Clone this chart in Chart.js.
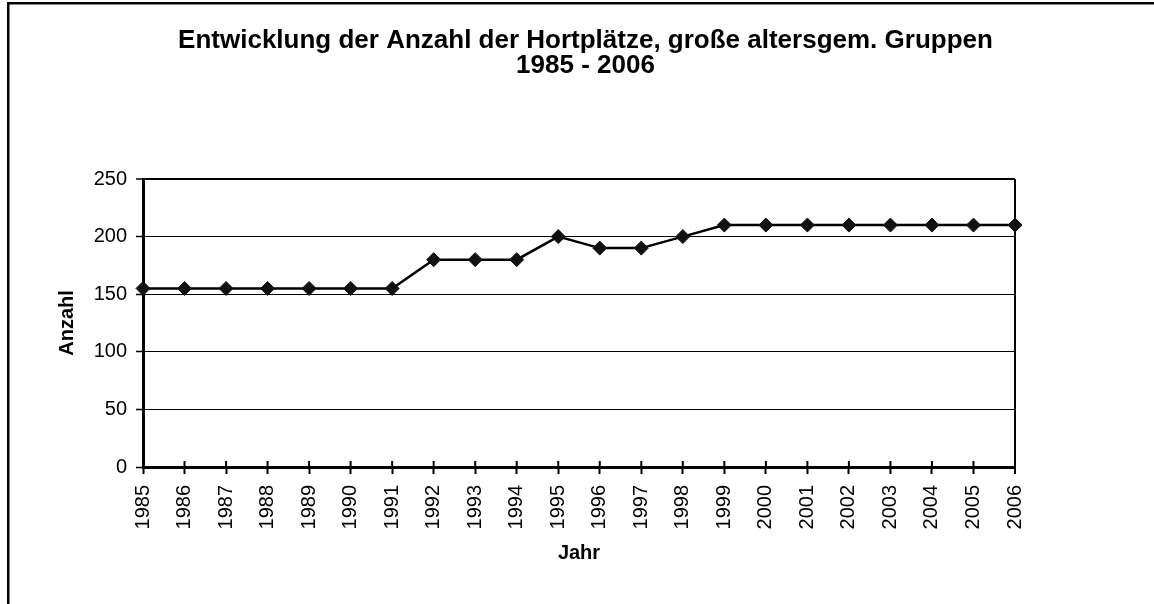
<!DOCTYPE html>
<html>
<head>
<meta charset="utf-8">
<script src="https://cdn.jsdelivr.net/npm/chart.js@4/dist/chart.umd.min.js"></script>
<style>
  html, body { margin: 0; padding: 0; background: #fff; }
  #wrap { width: 1154px; height: 604px; position: relative; }
</style>
</head>
<body>
<div id="wrap"><canvas id="c" width="1154" height="604"></canvas></div>
<script>
const titleLines = ["Entwicklung der Anzahl der Hortplätze, große altersgem. Gruppen", "1985 - 2006"];
const years = ["1985","1986","1987","1988","1989","1990","1991","1992","1993","1994","1995","1996","1997","1998","1999","2000","2001","2002","2003","2004","2005","2006"];
const anzahl = [155,155,155,155,155,155,155,180,180,180,200,190,190,200,210,210,210,210,210,210,210,210];
const yTicks = [0,50,100,150,200,250];
const xTitle = "Jahr";
const yTitle = "Anzahl";

const FONT = "'Liberation Sans', Arial, sans-serif";

const framePlugin = {
  id: 'frame',
  beforeDraw(chart) {
    const ctx = chart.ctx;
    ctx.save();
    ctx.fillStyle = '#fff';
    ctx.fillRect(0, 0, chart.width, chart.height);
    ctx.fillStyle = '#000';
    ctx.fillRect(7, 2, 2.5, chart.height);
    ctx.fillRect(7, 2, chart.width, 2.5);
    ctx.restore();
  },
  afterDraw(chart) {
    const ctx = chart.ctx;
    ctx.save();
    ctx.fillStyle = '#000';
    ctx.font = "bold 26px " + FONT;
    ctx.textAlign = 'center';
    ctx.textBaseline = 'alphabetic';
    ctx.fillText(titleLines[0], 585.5, 47.5);
    ctx.fillText(titleLines[1], 585.5, 72.5);
    ctx.restore();
  }
};

const innerTicks = {
  id: 'innerTicks',
  beforeDatasetsDraw(chart) {
    const x = chart.scales.x;
    const ctx = chart.ctx;
    const b = chart.chartArea.bottom;
    ctx.save();
    ctx.strokeStyle = '#000';
    ctx.lineWidth = 2;
    for (let i = 0; i < x.ticks.length; i++) {
      const px = x.getPixelForTick(i);
      ctx.beginPath();
      ctx.moveTo(px, b - 6);
      ctx.lineTo(px, b);
      ctx.stroke();
    }
    ctx.restore();
  }
};

new Chart(document.getElementById('c'), {
  type: 'line',
  data: {
    labels: years,
    datasets: [{
      data: anzahl,
      borderColor: '#000',
      borderWidth: 2.5,
      backgroundColor: '#000',
      pointStyle: 'rectRot',
      pointRadius: 7,
      pointBorderWidth: 1,
      pointBackgroundColor: '#111',
      pointBorderColor: '#111',
      tension: 0,
      clip: false
    }]
  },
  options: {
    responsive: false,
    animation: false,
    devicePixelRatio: 1,
    layout: { padding: { top: 179, right: 139, bottom: 0, left: 0 } },
    plugins: { legend: { display: false }, title: { display: false }, tooltip: { enabled: false } },
    scales: {
      x: {
        type: 'category',
        offset: false,
        afterFit(s) { s.height = 137; },
        grid: {
          display: true,
          drawOnChartArea: true,
          color: (c) => c.index === years.length - 1 ? '#000' : 'rgba(0,0,0,0)',
          lineWidth: (c) => c.index === years.length - 1 ? 2 : 1,
          tickColor: '#000',
          tickWidth: 2,
          tickLength: 7
        },
        border: { display: true, color: '#000', width: 3 },
        ticks: {
          autoSkip: false,
          maxRotation: 90,
          minRotation: 90,
          padding: 11,
          color: '#000',
          font: { family: FONT, size: 20 }
        },
        title: {
          display: true,
          text: xTitle,
          color: '#000',
          font: { family: FONT, size: 20, weight: 'bold' },
          padding: { top: 0, bottom: 39 }
        }
      },
      y: {
        min: 0,
        max: 250,
        afterFit(s) { s.width = 143; },
        afterBuildTicks(s) { s.ticks = yTicks.map(v => ({ value: v })); },
        grid: {
          color: '#000',
          lineWidth: (c) => c.tick && c.tick.value === 250 ? 2 : 1,
          tickColor: '#000',
          tickWidth: 1.5,
          tickLength: 7
        },
        border: { display: true, color: '#000', width: 3 },
        ticks: {
          padding: 9,
          color: '#000',
          font: { family: FONT, size: 20 }
        },
        title: {
          display: true,
          text: yTitle,
          color: '#000',
          font: { family: FONT, size: 20, weight: 'bold' },
          padding: { top: 55, bottom: 0 }
        }
      }
    }
  },
  plugins: [framePlugin, innerTicks]
});
</script>
</body>
</html>
